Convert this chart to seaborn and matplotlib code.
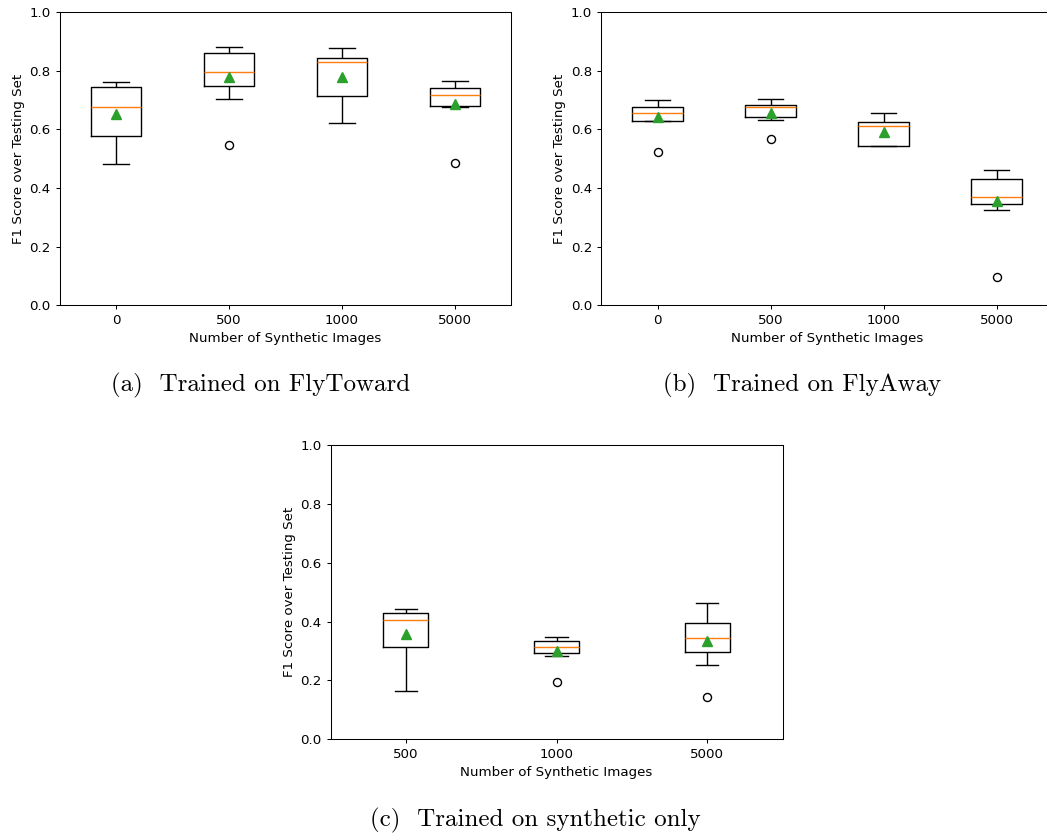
import matplotlib
matplotlib.use("Agg")
import matplotlib.pyplot as plt
import seaborn as sns
import pandas as pd

# ---------------- data ----------------
categories_ab = ["0", "500", "1000", "5000"]
categories_c = ["500", "1000", "5000"]

flytoward_0 = [0.482, 0.550, 0.608, 0.677, 0.735, 0.757, 0.762]
flytoward_500 = [0.547, 0.705, 0.793, 0.795, 0.848, 0.876, 0.881]
flytoward_1000 = [0.623, 0.690, 0.742, 0.829, 0.835, 0.851, 0.877]
flytoward_5000 = [0.484, 0.678, 0.684, 0.718, 0.725, 0.759, 0.767]

flyaway_0 = [0.523, 0.629, 0.631, 0.656, 0.660, 0.692, 0.702]
flyaway_500 = [0.568, 0.633, 0.655, 0.676, 0.680, 0.690, 0.703]
flyaway_1000 = [0.542, 0.543, 0.547, 0.612, 0.620, 0.632, 0.656]
flyaway_5000 = [0.097, 0.325, 0.365, 0.371, 0.410, 0.452, 0.463]

synthetic_500 = [0.165, 0.240, 0.386, 0.406, 0.415, 0.443, 0.443]
synthetic_1000 = [0.193, 0.283, 0.305, 0.312, 0.325, 0.343, 0.347]
synthetic_5000 = [0.142, 0.251, 0.341, 0.344, 0.360, 0.430, 0.463]

captions = ["(a)  Trained on FlyToward", "(b)  Trained on FlyAway",
            "(c)  Trained on synthetic only"]
x_label = "Number of Synthetic Images"
y_label = "F1 Score over Testing Set"
y_ticks = [0.0, 0.2, 0.4, 0.6, 0.8, 1.0]


def long_frame(cats, series):
    rows = []
    for c, vals in zip(cats, series):
        for v in vals:
            rows.append({"images": c, "f1": v})
    return pd.DataFrame(rows)


df_a = long_frame(categories_ab, [flytoward_0, flytoward_500, flytoward_1000, flytoward_5000])
df_b = long_frame(categories_ab, [flyaway_0, flyaway_500, flyaway_1000, flyaway_5000])
df_c = long_frame(categories_c, [synthetic_500, synthetic_1000, synthetic_5000])

# ---------------- style ----------------
plt.rcParams.update({
    "font.family": ["DejaVu Sans"],
    "font.size": 9.6,
    "axes.linewidth": 0.75,
    "xtick.major.width": 0.75,
    "ytick.major.width": 0.75,
    "xtick.major.size": 3.2,
    "ytick.major.size": 3.2,
    "xtick.major.pad": 3.2,
    "ytick.major.pad": 3.2,
    "axes.labelpad": 3.4,
})

fig = plt.figure(figsize=(10.47, 8.40), dpi=100)
W, H = 1047.0, 840.0
ax_a = fig.add_axes([59.5 / W, (H - 305.3) / H, 452 / W, 293 / H])
ax_b = fig.add_axes([601 / W, (H - 305.3) / H, 452 / W, 293 / H])
ax_c = fig.add_axes([330.5 / W, (H - 739) / H, 452 / W, 293.7 / H])

lw = 1.0
common = dict(
    x="images", y="f1", fill=False, color="black", linecolor="black",
    linewidth=lw, whis=1.5, showmeans=True,
    meanprops=dict(marker="^", markerfacecolor="#2ca02c",
                   markeredgecolor="#2ca02c", markersize=6.5),
    medianprops=dict(color="#ff7f0e", linewidth=lw),
    flierprops=dict(marker="o", markerfacecolor="none",
                    markeredgecolor="black", markersize=5.8,
                    markeredgewidth=lw),
)

for ax, df, cats, w in [(ax_a, df_a, categories_ab, 0.45),
                        (ax_b, df_b, categories_ab, 0.45),
                        (ax_c, df_c, categories_c, 0.30)]:
    sns.boxplot(data=df, order=cats, ax=ax, width=w, **common)
    ax.set_ylim(0, 1.0)
    ax.set_yticks(y_ticks)
    ax.set_xlim(-0.5, len(cats) - 0.5)
    ax.set_xlabel(x_label)
    ax.set_ylabel(y_label)
    for s in ax.spines.values():
        s.set_visible(True)
        s.set_color("black")
        s.set_linewidth(0.75)

cap_font = dict(family="cmr10", size=18.0)
fig.text(261 / W, (H - 391.7) / H, captions[0], ha="center", va="baseline", **cap_font)
fig.text(802 / W, (H - 391.7) / H, captions[1], ha="center", va="baseline", **cap_font)
fig.text(535 / W, (H - 826.7) / H, captions[2], ha="center", va="baseline", **cap_font)

fig.savefig("out.png", dpi=100)
